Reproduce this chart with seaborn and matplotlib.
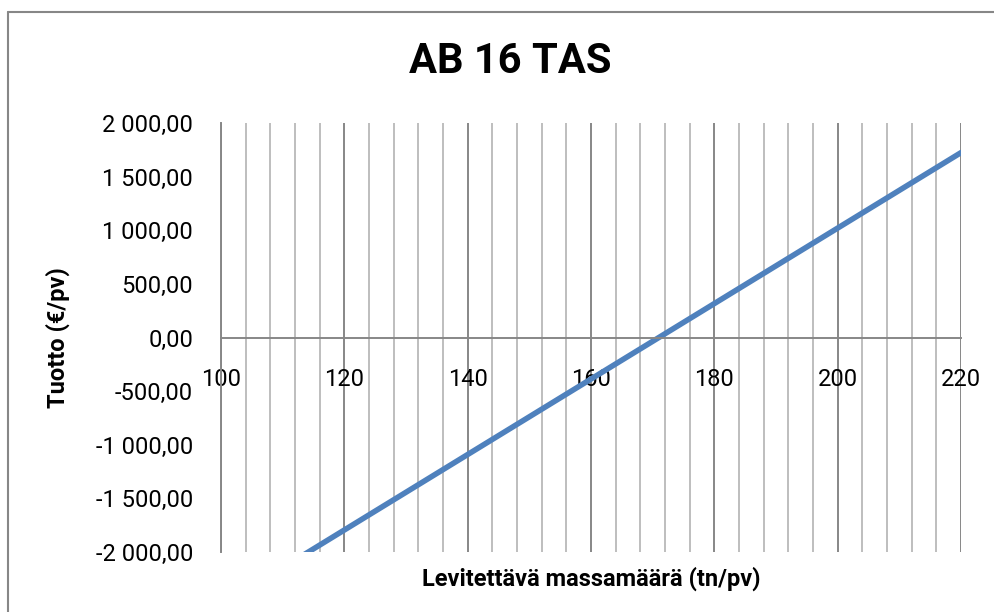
import numpy as np
import pandas as pd
import matplotlib
matplotlib.use('Agg')
import matplotlib.pyplot as plt
import matplotlib.ticker as mticker
from matplotlib.lines import Line2D
import seaborn as sns

# data
massamaara = [100, 110, 120, 130, 140, 150, 160, 170, 180, 190, 200, 210, 220]
tuotto = [-2499, -2147, -1795, -1443, -1091, -739, -387, -35, 317, 669, 1021, 1373, 1725]

df = pd.DataFrame({'massa': massamaara, 'tuotto': tuotto})

sns.set_style('white')
plt.rcParams['font.family'] = ['Roboto', 'DejaVu Sans']
plt.rcParams['text.color'] = 'black'
plt.rcParams['axes.labelcolor'] = 'black'

fig = plt.figure(figsize=(9.95, 6.12), dpi=100)
ax = fig.add_axes([0.222, 0.098, 0.744, 0.701])

sns.lineplot(data=df, x='massa', y='tuotto', color='#4F81BD', linewidth=4.0, ax=ax)

ax.set_xlim(100, 220)
ax.set_ylim(-2000, 2000)

# vertical gridlines: major every 20, minor every 4
ax.xaxis.set_major_locator(mticker.MultipleLocator(20))
ax.xaxis.set_minor_locator(mticker.MultipleLocator(4))
ax.yaxis.set_major_locator(mticker.MultipleLocator(500))
ax.grid(which='major', axis='x', color='#878787', linewidth=1.4)
ax.grid(which='minor', axis='x', color='#BEBEBE', linewidth=1.4)
ax.grid(which='major', axis='y', visible=False)
ax.set_axisbelow(True)


def fi_fmt(v, pos):
    s = f'{abs(v):,.2f}'.replace(',', ' ').replace('.', ',')
    return ('-' if v < 0 else '') + s


ax.yaxis.set_major_formatter(mticker.FuncFormatter(fi_fmt))

for side in ['top', 'right']:
    ax.spines[side].set_visible(False)
ax.spines['bottom'].set_position(('data', 0))
ax.spines['bottom'].set_color('#878787')
ax.spines['bottom'].set_linewidth(1.4)
ax.spines['left'].set_color('#878787')
ax.spines['left'].set_linewidth(1.4)

ax.tick_params(axis='y', length=0, pad=20, labelsize=17, labelcolor='black')
ax.tick_params(axis='x', which='both', length=0, pad=22, labelsize=17, labelcolor='black')

ax.set_xlabel('Levitettävä massamäärä (tn/pv)', fontsize=17, fontweight='bold', color='black')
ax.set_ylabel('Tuotto (€/pv)', fontsize=17, fontweight='bold', color='black')
ax.xaxis.set_label_coords(0.5, -0.035)
ax.yaxis.set_label_coords(-0.204, 0.5)

fig.text(0.513, 0.90, 'AB 16 TAS', ha='center', va='center', fontsize=30, fontweight='bold', color='black')

# chart area border (left and top edges visible)
fig.add_artist(Line2D([0.008, 0.008], [0, 0.980], transform=fig.transFigure, color='#878787', linewidth=1.5))
fig.add_artist(Line2D([0.008, 1], [0.980, 0.980], transform=fig.transFigure, color='#878787', linewidth=1.5))

fig.savefig('out.png', dpi=100)
